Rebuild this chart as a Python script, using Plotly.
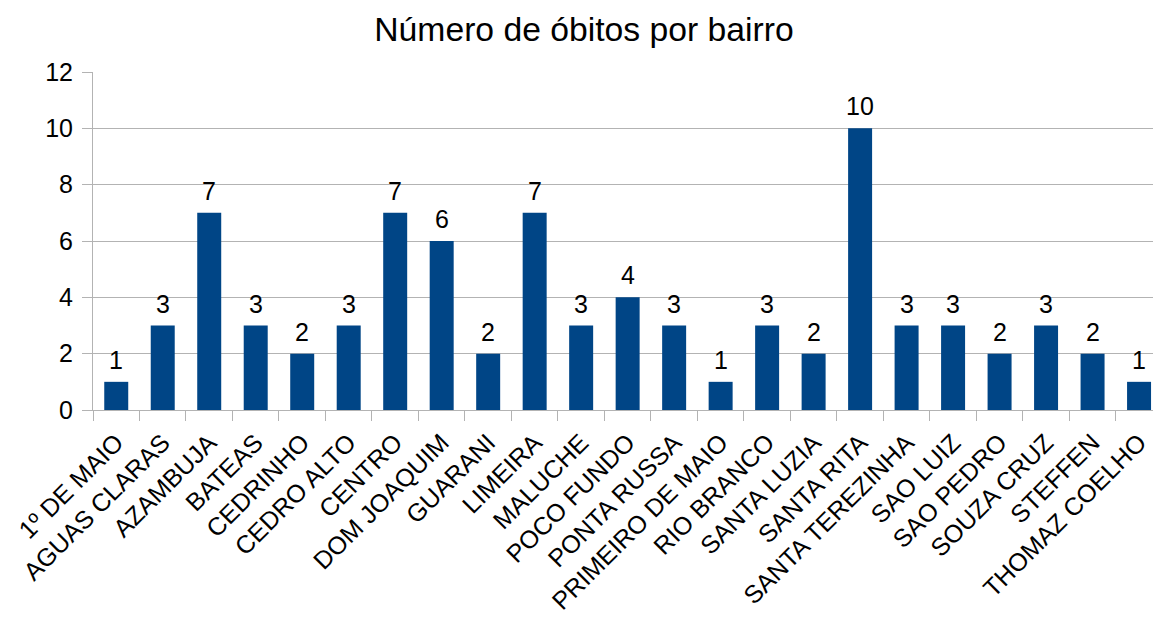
import plotly.graph_objects as go

bairros = ["1º DE MAIO", "AGUAS CLARAS", "AZAMBUJA", "BATEAS", "CEDRINHO", "CEDRO ALTO",
           "CENTRO", "DOM JOAQUIM", "GUARANI", "LIMEIRA", "MALUCHE", "POCO FUNDO",
           "PONTA RUSSA", "PRIMEIRO DE MAIO", "RIO BRANCO", "SANTA LUZIA", "SANTA RITA",
           "SANTA TEREZINHA", "SAO LUIZ", "SAO PEDRO", "SOUZA CRUZ", "STEFFEN", "THOMAZ COELHO"]
obitos = [1, 3, 7, 3, 2, 3, 7, 6, 2, 7, 3, 4, 3, 1, 3, 2, 10, 3, 3, 2, 3, 2, 1]
y_ticks = [0, 2, 4, 6, 8, 10, 12]

font = "Liberation Sans, Arial, sans-serif"

fig = go.Figure(go.Bar(
    x=bairros, y=obitos,
    marker=dict(color="#004586", line=dict(width=0)),
    width=0.516,
    hoverinfo="x+y",
))

for b, v in zip(bairros, obitos):
    fig.add_annotation(x=b, y=v, text=str(v), showarrow=False,
                       xanchor="center", yanchor="bottom", yshift=6,
                       font=dict(size=25, color="black", family=font))

fig.update_layout(
    width=1154, height=621,
    paper_bgcolor="white", plot_bgcolor="white",
    margin=dict(l=93, r=1, t=72, b=211),
    title=dict(text="Número de óbitos por bairro", x=584 / 1154, xanchor="center",
               y=0.953, yanchor="middle",
               font=dict(size=33.7, color="black", family=font)),
    showlegend=False,
)
fig.update_xaxes(
    range=[-0.5, 22.3],
    tickangle=-45, tickfont=dict(size=25, color="black", family=font),
    showline=True, linecolor="#b3b3b3", linewidth=1,
    ticks="outside", tickson="boundaries", ticklen=10, tickcolor="#b3b3b3",
    showgrid=False, ticklabelstandoff=7,
)
fig.update_yaxes(
    range=[0, 12], tickvals=y_ticks,
    tickfont=dict(size=25, color="black", family=font),
    showline=True, linecolor="#b3b3b3", linewidth=1,
    ticks="outside", ticklen=10, tickcolor="#b3b3b3",
    showgrid=True, gridcolor="#b3b3b3", gridwidth=1,
    zeroline=False, ticklabelstandoff=4,
)

fig.write_html("out.html", config={"displayModeBar": False})

with open("out.html", "r", encoding="utf-8") as f:
    html = f.read()
html = html.replace("<body>", "<body style=\"margin:0;padding:0;overflow:hidden\">", 1)
with open("out.html", "w", encoding="utf-8") as f:
    f.write(html)
